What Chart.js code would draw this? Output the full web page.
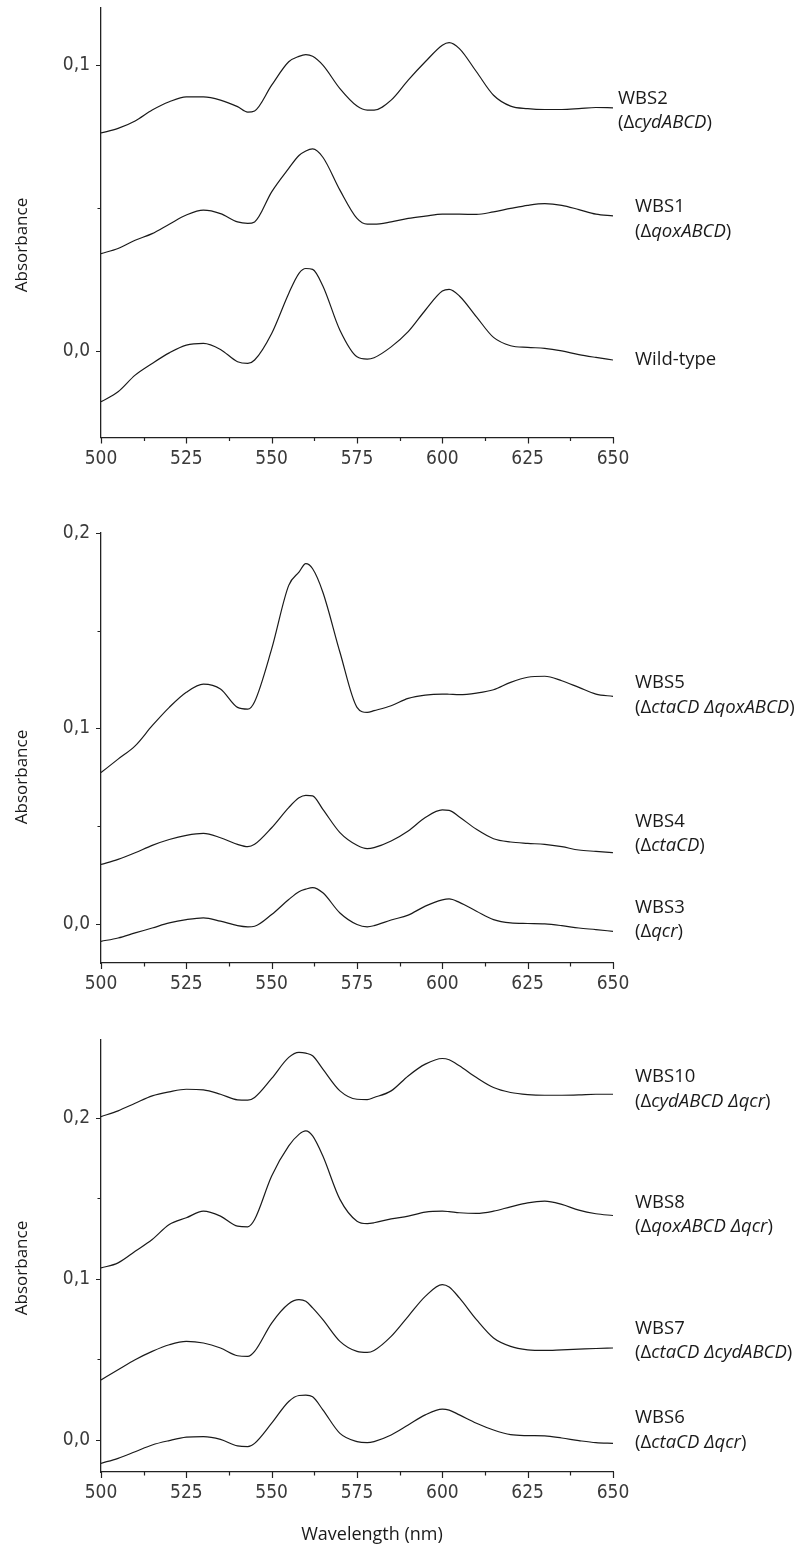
<!DOCTYPE html>
<html><head><meta charset="utf-8">
<script src="https://cdn.jsdelivr.net/npm/chart.js@4/dist/chart.umd.min.js"></script>
<style>
html,body{margin:0;padding:0;background:#fff;}
#wrap{position:relative;width:798px;height:1546px;overflow:hidden;}
canvas{position:absolute;left:0;}
</style></head><body>
<div id="wrap">
<canvas id="c1" width="798" height="480" style="top:0px"></canvas>
<canvas id="c2" width="798" height="520" style="top:480px"></canvas>
<canvas id="c3" width="798" height="546" style="top:1000px"></canvas>
</div>
<script>
// ---------- data ----------
const wavelengths = [500,505,510,515,520,525,530,535,540,543,545,550,555,558,560,562,565,570,575,578,580,585,590,595,600,602,605,610,615,620,625,630,635,640,645,650];

// panel 1
const wbs2 = [0.0763,0.0779,0.0805,0.0843,0.0872,0.0889,0.0889,0.0878,0.0855,0.0836,0.0840,0.0930,0.1012,0.1031,0.1037,0.1031,0.1000,0.0918,0.0857,0.0843,0.0843,0.0878,0.0948,0.1012,0.1070,0.1079,0.1058,0.0977,0.0895,0.0857,0.0848,0.0845,0.0845,0.0848,0.0852,0.0851];
const wbs1 = [0.0341,0.0359,0.0388,0.0411,0.0444,0.0476,0.0493,0.0481,0.0452,0.0447,0.0452,0.0557,0.0639,0.0684,0.0700,0.0707,0.0678,0.0563,0.0464,0.0444,0.0444,0.0452,0.0464,0.0472,0.0479,0.0479,0.0479,0.0478,0.0487,0.0499,0.0510,0.0516,0.0510,0.0495,0.0479,0.0473];
const wildType = [-0.0177,-0.0142,-0.0084,-0.0043,-0.0006,0.0021,0.0027,0.0006,-0.0037,-0.0043,-0.0031,0.0062,0.0202,0.0272,0.0289,0.0286,0.0228,0.0073,-0.0020,-0.0028,-0.0023,0.0015,0.0068,0.0143,0.0210,0.0216,0.0193,0.0120,0.0048,0.0019,0.0013,0.0010,0.0001,-0.0012,-0.0022,-0.0031];

// panel 2
const wbs5 = [0.0774,0.0843,0.0911,0.1014,0.1108,0.1185,0.1227,0.1202,0.1108,0.1099,0.1137,0.1407,0.1732,0.1800,0.1843,0.1817,0.1697,0.1390,0.1108,0.1082,0.1091,0.1116,0.1154,0.1171,0.1176,0.1175,0.1173,0.1181,0.1198,0.1236,0.1262,0.1267,0.1244,0.1210,0.1176,0.1164];
const wbs4 = [0.0304,0.0330,0.0364,0.0402,0.0432,0.0453,0.0463,0.0441,0.0407,0.0395,0.0407,0.0492,0.0595,0.0645,0.0658,0.0655,0.0586,0.0467,0.0402,0.0385,0.0390,0.0424,0.0475,0.0544,0.0583,0.0581,0.0547,0.0484,0.0436,0.0419,0.0412,0.0407,0.0395,0.0378,0.0371,0.0364];
const wbs3 = [-0.0089,-0.0072,-0.0046,-0.0021,0.0005,0.0022,0.0031,0.0014,-0.0009,-0.0015,-0.0012,0.0048,0.0125,0.0165,0.0178,0.0186,0.0159,0.0056,-0.0003,-0.0015,-0.0009,0.0020,0.0045,0.0091,0.0123,0.0128,0.0110,0.0065,0.0022,0.0005,0.0002,0.0000,-0.0009,-0.0021,-0.0029,-0.0038];

// panel 3
const wbs10 = [0.2008,0.2044,0.2091,0.2137,0.2162,0.2178,0.2174,0.2147,0.2112,0.2110,0.2127,0.2245,0.2376,0.2407,0.2402,0.2386,0.2303,0.2168,0.2116,0.2114,0.2127,0.2168,0.2261,0.2334,0.2369,0.2361,0.2324,0.2251,0.2189,0.2158,0.2145,0.2141,0.2141,0.2143,0.2147,0.2147];
const wbs8 = [0.1068,0.1100,0.1172,0.1245,0.1338,0.1380,0.1421,0.1390,0.1328,0.1324,0.1369,0.1639,0.1826,0.1898,0.1919,0.1888,0.1763,0.1494,0.1359,0.1344,0.1349,0.1373,0.1390,0.1415,0.1421,0.1418,0.1411,0.1407,0.1421,0.1448,0.1473,0.1483,0.1463,0.1427,0.1405,0.1394];
const wbs7 = [0.0373,0.0436,0.0498,0.0550,0.0591,0.0612,0.0602,0.0571,0.0523,0.0519,0.0550,0.0726,0.0846,0.0871,0.0861,0.0820,0.0747,0.0612,0.0550,0.0544,0.0556,0.0643,0.0768,0.0892,0.0965,0.0950,0.0882,0.0747,0.0633,0.0581,0.0560,0.0556,0.0560,0.0564,0.0568,0.0571];
const wbs6 = [-0.0145,-0.0114,-0.0073,-0.0031,-0.0004,0.0017,0.0021,0.0004,-0.0037,-0.0041,-0.0021,0.0104,0.0239,0.0276,0.0278,0.0268,0.0187,0.0041,-0.0010,-0.0017,-0.0010,0.0031,0.0093,0.0156,0.0191,0.0185,0.0156,0.0104,0.0062,0.0033,0.0027,0.0025,0.0012,-0.0004,-0.0017,-0.0021];

// ticks
const xTickValues = [500,512.5,525,537.5,550,562.5,575,587.5,600,612.5,625,637.5,650];
const yTicksPanel1 = [0,0.05,0.1];
const yTicksPanel2 = [0,0.05,0.1,0.15,0.2];
const yTicksPanel3 = [0,0.05,0.1,0.15,0.2];

// labels (name, genotype segments: [text, italic])
const namesPanel1 = ['WBS2','WBS1','Wild-type'];
const genoPanel1 = [[['(Δ',0],['cydABCD',1],[')',0]], [['(Δ',0],['qoxABCD',1],[')',0]], null];
const namesPanel2 = ['WBS5','WBS4','WBS3'];
const genoPanel2 = [[['(Δ',0],['ctaCD ΔqoxABCD',1],[')',0]], [['(Δ',0],['ctaCD',1],[')',0]], [['(Δ',0],['qcr',1],[')',0]]];
const namesPanel3 = ['WBS10','WBS8','WBS7','WBS6'];
const genoPanel3 = [[['(Δ',0],['cydABCD Δqcr',1],[')',0]], [['(Δ',0],['qoxABCD Δqcr',1],[')',0]], [['(Δ',0],['ctaCD ΔcydABCD',1],[')',0]], [['(Δ',0],['ctaCD Δqcr',1],[')',0]]];
const yTitle = 'Absorbance';
const xTitle = 'Wavelength (nm)';

// ---------- styling ----------
const TEXT_FONT = "'Open Sans', 'Liberation Sans', sans-serif";
const TICK_FONT = "'Liberation Sans Narrow', 'DejaVu Sans Condensed', 'Arial Narrow', sans-serif";
const INK = '#1a1a1a';

function isMult(v, step){ const r = v/step; return Math.abs(r - Math.round(r)) < 1e-6; }

const tickMarkPlugin = {
  id: 'tickMarks',
  afterDraw(chart) {
    const ctx = chart.ctx, xs = chart.scales.x, ys = chart.scales.y;
    ctx.save();
    ctx.strokeStyle = '#222';
    ctx.lineWidth = 1.2;
    ctx.beginPath();
    xs.ticks.forEach(t => {
      const px = Math.round(xs.getPixelForValue(t.value)) + 0.5;
      const len = isMult(t.value, 25) ? 6 : 3.5;
      ctx.moveTo(px, xs.top); ctx.lineTo(px, xs.top + len);
    });
    ys.ticks.forEach(t => {
      const py = Math.round(ys.getPixelForValue(t.value)) + 0.5;
      const len = isMult(t.value, 0.1) ? 5 : 3.5;
      ctx.moveTo(ys.right - len, py); ctx.lineTo(ys.right, py);
    });
    ctx.stroke();
    ctx.restore();
  }
};

const textPlugin = {
  id: 'panelText',
  afterDraw(chart, args, o) {
    const ctx = chart.ctx;
    ctx.save();
    ctx.fillStyle = INK;
    ctx.textBaseline = 'middle';
    ctx.textAlign = 'left';
    const LS = '18.5px ';
    o.items.forEach(it => {
      ctx.font = LS + TEXT_FONT;
      ctx.fillText(it.name, it.x, it.y1);
      if (it.geno) {
        let x = it.x;
        it.geno.forEach(([t, ital]) => {
          ctx.font = (ital ? 'italic ' : '') + LS + TEXT_FONT;
          ctx.fillText(t, x, it.y2);
          x += ctx.measureText(t).width;
        });
      }
    });
    // y title
    ctx.font = '17px ' + TEXT_FONT;
    ctx.save();
    ctx.translate(o.yTitlePos[0], o.yTitlePos[1]);
    ctx.rotate(-Math.PI/2);
    ctx.textAlign = 'center';
    ctx.fillText(yTitle, 0, 0);
    ctx.restore();
    if (o.xTitlePos) {
      ctx.font = '18px ' + TEXT_FONT;
      ctx.textAlign = 'center';
      ctx.fillText(xTitle, o.xTitlePos[0], o.xTitlePos[1]);
    }
    ctx.restore();
  }
};

function makeDataset(label, values) {
  return {
    label,
    data: wavelengths.map((w, i) => ({x: w, y: values[i]})),
    borderColor: INK,
    borderWidth: 1.2,
    pointRadius: 0,
    fill: false,
    cubicInterpolationMode: 'monotone'
  };
}

function makeChart(id, cfg) {
  return new Chart(document.getElementById(id), {
    type: 'line',
    data: { datasets: cfg.series.map(s => makeDataset(s[0], s[1])) },
    options: {
      responsive: false,
      animation: false,
      devicePixelRatio: 1,
      layout: { padding: { left: 0, right: 185, top: cfg.padTop, bottom: 0 } },
      plugins: {
        legend: { display: false },
        tooltip: { enabled: false },
        panelText: cfg.text
      },
      scales: {
        x: {
          type: 'linear', min: 500, max: 650,
          afterBuildTicks: s => { s.ticks = xTickValues.map(v => ({value: v})); },
          afterFit: s => { s.height = cfg.xAxisHeight; s.paddingLeft = 0; s.paddingRight = 0; },
          grid: { drawOnChartArea: false, drawTicks: false },
          border: { display: true, color: '#222', width: 1.3 },
          ticks: {
            autoSkip: false, maxRotation: 0, padding: 10, color: '#3a3a3a',
            font: { family: TICK_FONT, size: 19 },
            callback: v => isMult(v, 25) ? String(v) : ''
          }
        },
        y: {
          type: 'linear', min: cfg.yMin, max: cfg.yMax,
          afterBuildTicks: s => { s.ticks = cfg.yTicks.map(v => ({value: v})); },
          afterFit: s => { s.width = 101; s.paddingTop = 0; s.paddingBottom = 0; },
          grid: { drawOnChartArea: false, drawTicks: false },
          border: { display: true, color: '#222', width: 1.3 },
          ticks: {
            padding: 11, color: '#3a3a3a',
            font: { family: TICK_FONT, size: 19 },
            callback: v => isMult(v, 0.1) ? v.toFixed(1).replace('.', ',') : ''
          }
        }
      }
    },
    plugins: [tickMarkPlugin, textPlugin]
  });
}

function items(names, genos, xs, ys) {
  return names.map((n, i) => ({ name: n, geno: genos[i], x: xs[i], y1: ys[i][0], y2: ys[i][1] }));
}

// panel 1: canvas top 0
makeChart('c1', {
  series: [['WBS2', wbs2], ['WBS1', wbs1], ['Wild-type', wildType]],
  yMin: -0.0302, yMax: 0.12, yTicks: yTicksPanel1,
  padTop: 8, xAxisHeight: 480 - 437.5,
  text: {
    items: items(namesPanel1, genoPanel1, [618, 635, 635], [[99, 123], [207, 232], [360, 0]]),
    yTitlePos: [22, 245]
  }
});

// panel 2: canvas top 480
makeChart('c2', {
  series: [['WBS5', wbs5], ['WBS4', wbs4], ['WBS3', wbs3]],
  yMin: -0.02, yMax: 0.2, yTicks: yTicksPanel2,
  padTop: 533 - 480, xAxisHeight: 1000 - 963,
  text: {
    items: items(namesPanel2, genoPanel2, [635, 635, 635], [[203, 228], [342, 366], [428, 452]]),
    yTitlePos: [22, 297]
  }
});

// panel 3: canvas top 1000
makeChart('c3', {
  series: [['WBS10', wbs10], ['WBS8', wbs8], ['WBS7', wbs7], ['WBS6', wbs6]],
  yMin: -0.0199, yMax: 0.2484, yTicks: yTicksPanel3,
  padTop: 1040 - 1000, xAxisHeight: 1546 - 1472,
  text: {
    items: items(namesPanel3, genoPanel3, [635, 635, 635, 635], [[77, 102], [203, 227], [329, 353], [418, 443]]),
    yTitlePos: [22, 268],
    xTitlePos: [372, 535]
  }
});
</script>
</body></html>
